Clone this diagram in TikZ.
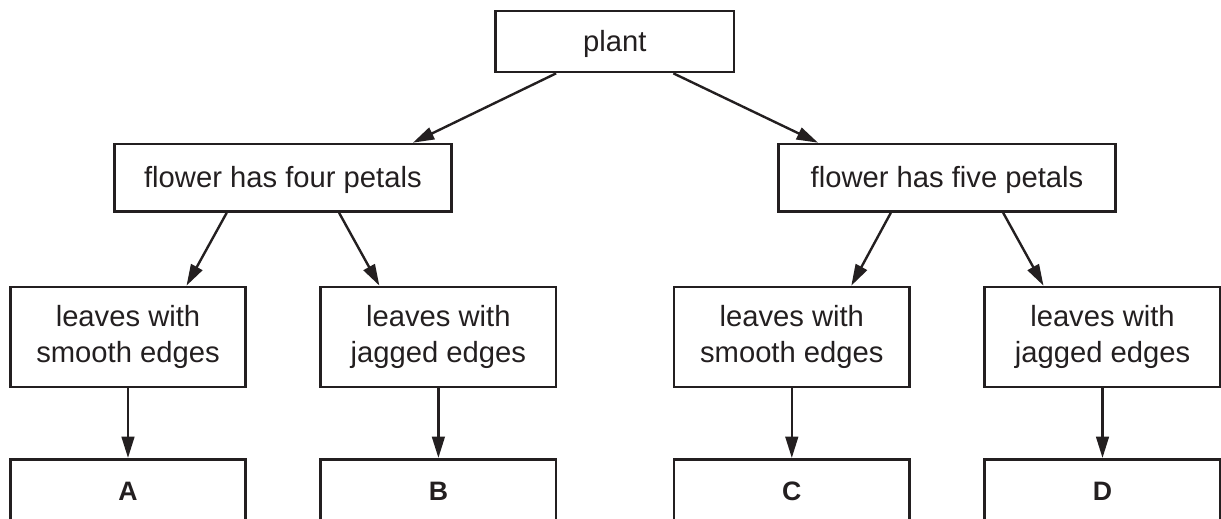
\documentclass[tikz,border=0pt]{standalone}
\usepackage{fontspec}
\setmainfont{Liberation Sans}
\usetikzlibrary{arrows.meta,calc}
\definecolor{ink}{RGB}{35,31,32}
\tikzset{
  box/.style={draw=ink, line width=2pt, inner sep=0pt, text=ink, align=center,
    font=\fontsize{21.9pt}{26.8pt}\selectfont},
  topbox/.style={box, minimum width=178.9pt, minimum height=45.75pt, text height=15pt, text depth=0pt},
  midbox/.style={box, minimum width=253.1pt, minimum height=50.6pt, text height=15pt, text depth=0pt},
  leafbox/.style={box, minimum width=176.6pt, minimum height=75pt},
  endbox/.style={box, minimum width=176.6pt, minimum height=48pt,
    font=\fontsize{20pt}{24pt}\selectfont\bfseries, text height=13.3pt, text depth=0pt},
  conn/.style={draw=ink, line width=1.8pt, -{Triangle[length=16pt,width=9.5pt]}}
}
\begin{document}
\begin{tikzpicture}[x=0.75pt, y=-0.75pt]
\useasboundingbox (0,0) rectangle (1221,518);
\clip (0,0) rectangle (1221,518);
\node[topbox] (plant) at (614.75,41.5) {plant};
\node[midbox] (four) at (282.9,177.75) {flower has four petals};
\node[midbox] (five) at (947,177.75) {flower has five petals};
\node[leafbox] (s1) at (128,337) {leaves with\\smooth edges};
\node[leafbox] (j1) at (438.4,337) {leaves with\\jagged edges};
\node[leafbox] (s2) at (791.8,337) {leaves with\\smooth edges};
\node[leafbox] (j2) at (1102.5,337) {leaves with\\jagged edges};
\node[endbox] (a) at (128,491.3) {A};
\node[endbox] (b) at (438.4,491.3) {B};
\node[endbox] (c) at (791.8,491.3) {C};
\node[endbox] (d) at (1102.5,491.3) {D};
\draw[conn] ($(plant.south)+(-58.6,0)$) -- ($(four.north)+(130,0)$);
\draw[conn] ($(plant.south)+(58.6,0)$) -- ($(five.north)+(-129,0)$);
\draw[conn] ($(four.south)+(-56.2,0)$) -- ($(s1.north)+(58.5,0)$);
\draw[conn] ($(four.south)+(56.2,0)$) -- ($(j1.north)+(-59,0)$);
\draw[conn] ($(five.south)+(-56.2,0)$) -- ($(s2.north)+(59.5,0)$);
\draw[conn] ($(five.south)+(56.2,0)$) -- ($(j2.north)+(-59,0)$);
\draw[conn] (s1) -- (a);
\draw[conn] (j1) -- (b);
\draw[conn] (s2) -- (c);
\draw[conn] (j2) -- (d);
\end{tikzpicture}
\end{document}
